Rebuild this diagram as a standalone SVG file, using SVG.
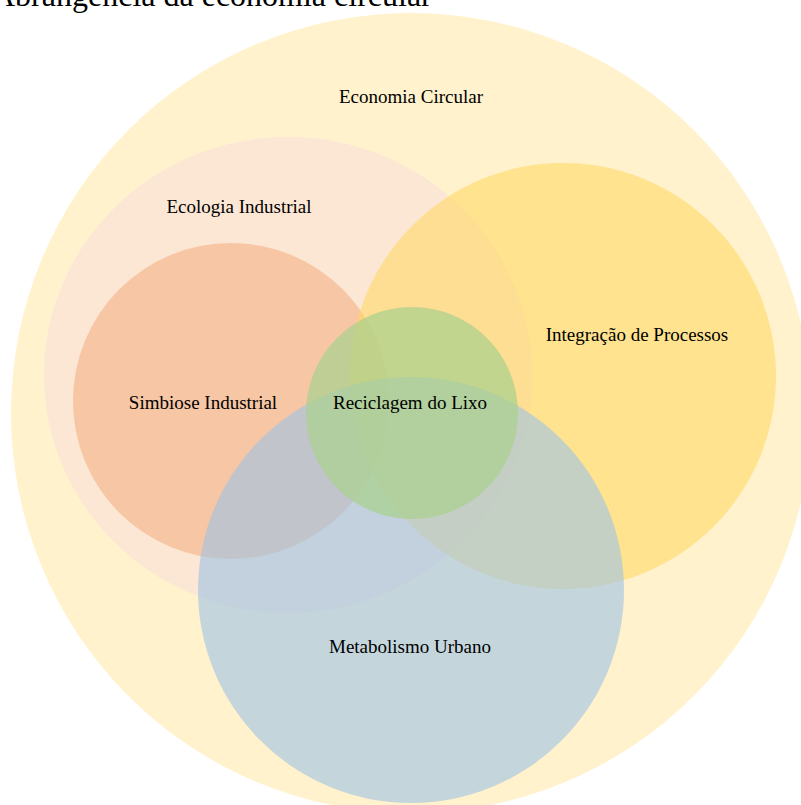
<svg xmlns="http://www.w3.org/2000/svg" width="801" height="805" viewBox="0 0 801 805">
<style>
text{font-family:"Liberation Serif","Times New Roman",serif;fill:#000;}
.lbl{font-size:19px;text-anchor:middle;}
.title{font-size:32px;}
</style>
<rect width="801" height="805" fill="#ffffff"/>
<g id="economia-circular">
<circle cx="411" cy="413" r="400" fill="#FFF2CC"/>
<text class="lbl" x="411" y="103">Economia Circular</text>
</g>
<g id="ecologia-industrial">
<ellipse cx="288" cy="375" rx="244" ry="238" fill="#FBE5D6" opacity="0.85"/>
<text class="lbl" x="239" y="213">Ecologia Industrial</text>
</g>
<g id="simbiose-industrial">
<circle cx="231" cy="401" r="158" fill="#F4B183" opacity="0.6"/>
<text class="lbl" x="203" y="409">Simbiose Industrial</text>
</g>
<g id="integracao-processos">
<circle cx="563" cy="376" r="213" fill="#FFD966" opacity="0.6"/>
<text class="lbl" x="637" y="341">Integração de Processos</text>
</g>
<g id="metabolismo-urbano">
<circle cx="411" cy="590" r="213" fill="#9DC3E6" opacity="0.6"/>
<text class="lbl" x="410" y="653">Metabolismo Urbano</text>
</g>
<g id="reciclagem-lixo">
<circle cx="412" cy="413" r="106" fill="#A9D18E" opacity="0.72"/>
<text class="lbl" x="410" y="409">Reciclagem do Lixo</text>
</g>
<g id="connectors"></g>
<text class="title" x="-8" y="6">Abrangência da economia circular</text>
</svg>
